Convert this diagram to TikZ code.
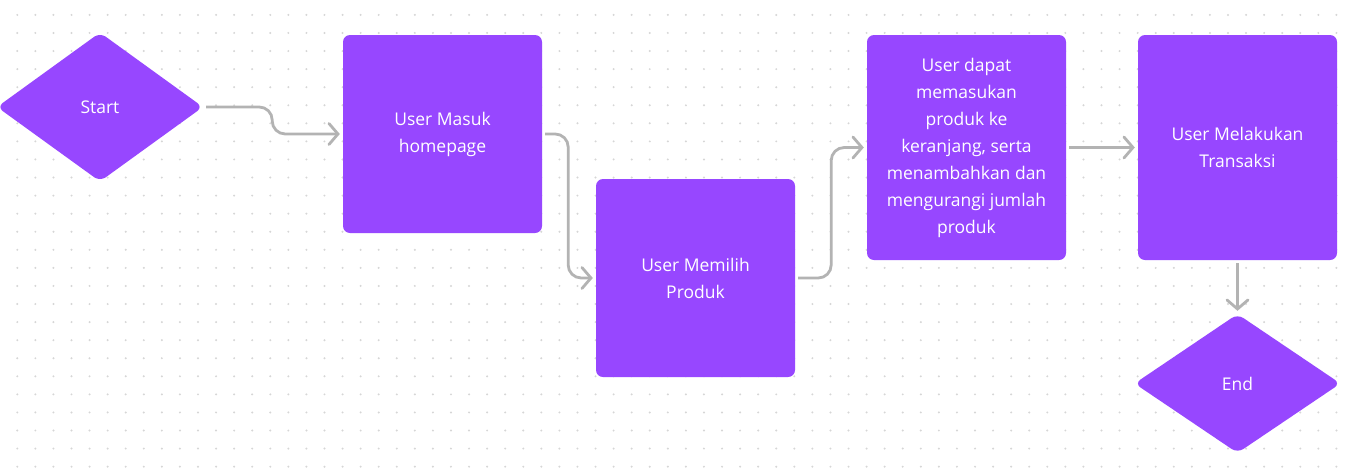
\documentclass[tikz,border=0pt]{standalone}
\usepackage{fontspec}
\setsansfont{Open Sans}
\usetikzlibrary{shapes.geometric,arrows.meta}
\definecolor{flowpurple}{HTML}{9747FF}
\definecolor{flowgray}{HTML}{B3B3B3}
\definecolor{griddot}{HTML}{D6D6D6}
\tikzset{
	stepbox/.style={rectangle,rounded corners=7pt,fill=flowpurple,text=white,align=center,minimum width=199pt,inner sep=0pt},
	terminal/.style={diamond,rounded corners=7pt,fill=flowpurple,text=white,align=center,minimum width=206pt,inner sep=0pt},
	conn/.style={->,draw=flowgray,line width=2.8pt,rounded corners=13pt,shorten <=3pt,shorten >=3pt}
}
\begin{document}
\begin{tikzpicture}[x=1pt,y=-1pt,>={Straight Barb[length=9pt,width=21pt,line cap=round]},font=\sffamily\fontsize{17.5}{27}\selectfont]
	\useasboundingbox [fill=white] (0,0) rectangle (1345,472);
	% dot grid in the background
	\foreach \i in {0,...,74}
	\foreach \j in {0,...,25}
	\fill [griddot] (17.3+18.07*\i,14.9+18.07*\j) circle (1.1pt);
	\node [terminal,minimum height=149pt] (start) at (100,107) {Start};
	\node [stepbox,minimum height=198pt] (homepage) at (442.5,134) {User Masuk\\homepage};
	\node [stepbox,minimum height=198pt] (pilih) at (695.5,278) {User Memilih\\Produk};
	\node [stepbox,minimum height=225pt] (keranjang) at (966.5,147.5) {User dapat\\memasukan\\produk ke\\keranjang, serta\\menambahkan dan\\mengurangi jumlah\\produk};
	\node [stepbox,minimum height=225pt] (transaksi) at (1237.5,147.5) {User Melakukan\\Transaksi};
	\node [terminal,minimum height=139pt] (end) at (1237.5,383.5) {End};
	\draw [conn] (start.east) -- ++(69,0) |- (homepage.west);
	\draw [conn] (homepage.east) -- ++(26,0) |- (pilih.west);
	\draw [conn] (pilih.east) -- ++(36,0) |- (keranjang.west);
	\draw [conn] (keranjang.east) -- (transaksi.west);
	\draw [conn] (transaksi.south) -- (end.north);
\end{tikzpicture}
\end{document}
